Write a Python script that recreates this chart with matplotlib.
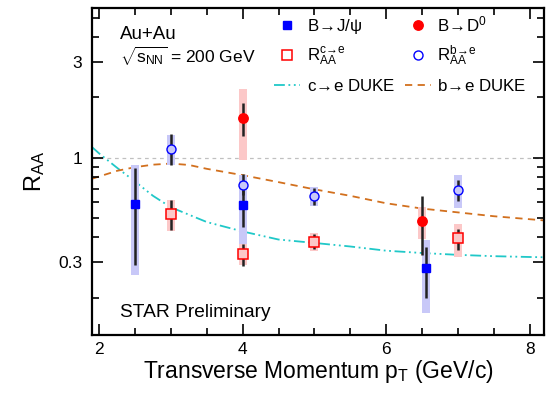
import matplotlib
matplotlib.use('Agg')
import matplotlib.pyplot as plt
from matplotlib.lines import Line2D
from matplotlib.ticker import FixedLocator, NullFormatter, MultipleLocator
import numpy as np

plt.rcParams['font.family'] = ['Liberation Sans', 'DejaVu Sans']
plt.rcParams['mathtext.fontset'] = 'custom'
plt.rcParams['mathtext.rm'] = 'Liberation Sans'
plt.rcParams['mathtext.it'] = 'Liberation Sans:italic'
plt.rcParams['mathtext.bf'] = 'Liberation Sans:bold'

# B -> J/psi
jpsi_pt = [2.5, 4.0, 6.55]
jpsi_raa = [0.59, 0.577, 0.28]
jpsi_stat = [[0.30, 0.127, 0.08], [0.297, 0.109, 0.077]]
jpsi_sys = [[0.332, 0.212, 0.113], [0.325, 0.238, 0.109]]

# B -> D0
d0_pt = [4.0, 6.5]
d0_raa = [1.585, 0.48]
d0_stat = [[0.295, 0.155], [0.29, 0.16]]
d0_sys = [[0.615, 0.086], [0.615, 0.086]]

# c -> e
ce_pt = [3.0, 4.0, 5.0, 7.0]
ce_raa = [0.525, 0.331, 0.381, 0.397]
ce_stat = [[0.092, 0.043, 0.031, 0.05], [0.087, 0.041, 0.033, 0.043]]
ce_sys = [[0.095, 0.041, 0.038, 0.077], [0.09, 0.041, 0.039, 0.071]]

# b -> e
be_pt = [3.0, 4.0, 5.0, 7.0]
be_raa = [1.11, 0.727, 0.64, 0.686]
be_stat = [[0.195, 0.079, 0.062, 0.076], [0.2, 0.103, 0.068, 0.084]]
be_sys = [[0.19, 0.077, 0.065, 0.126], [0.19, 0.093, 0.07, 0.129]]

# DUKE model curves
duke_c_pt = [1.9, 2.0, 2.25, 2.5, 2.75, 3.0, 3.5, 4.0, 4.5, 5.0, 5.5, 6.0, 6.5, 7.0, 7.5, 8.0, 8.2]
duke_c_raa = [1.13, 1.05, 0.89, 0.76, 0.645, 0.565, 0.477, 0.428, 0.39, 0.375, 0.36, 0.343,
              0.334, 0.327, 0.322, 0.319, 0.318]
duke_b_pt = [1.9, 2.25, 2.5, 2.75, 3.0, 3.25, 3.5, 4.0, 4.5, 5.0, 5.5, 6.0, 6.5, 7.0, 7.5, 8.2]
duke_b_raa = [0.785, 0.86, 0.897, 0.923, 0.935, 0.92, 0.88, 0.818, 0.755, 0.695, 0.645, 0.592,
              0.557, 0.533, 0.51, 0.486]

blue = '#0000ff'
red = '#ff0000'
blue_box = '#c8c8f8'
red_box = '#fcc8c8'
statc = '#222222'
box_w = 0.11
cyan = '#20c8c8'
orange = '#d2701e'
dashdot = (0, (6, 2, 1, 2, 1, 2))

fig = plt.figure(figsize=(5.5, 3.93), dpi=100)
ax = fig.add_axes([0.1673, 0.1476, 0.8217, 0.832])
ax.set_yscale('log')


def draw_set(pt, raa, stat, sys, box_color, **mk):
    raa = np.array(raa)
    lo = raa - np.array(sys[0])
    hi = raa + np.array(sys[1])
    ax.bar(pt, hi - lo, bottom=lo, width=box_w, color=box_color, zorder=2)
    ax.errorbar(pt, raa, yerr=stat, fmt='none', ecolor=statc, elinewidth=1.8, capsize=0, zorder=3)
    ax.plot(pt, raa, linestyle='none', zorder=4, **mk)


ax.axhline(1.0, color='#c0c0c0', lw=0.9, ls=(0, (3, 3)), zorder=1)
ax.plot(duke_c_pt, duke_c_raa, color=cyan, lw=1.3, ls=dashdot, zorder=1.5)
ax.plot(duke_b_pt, duke_b_raa, color=orange, lw=1.3, ls=(0, (4, 3)), zorder=1.5)

draw_set(jpsi_pt, jpsi_raa, jpsi_stat, jpsi_sys, blue_box,
         marker='s', ms=6.2, mfc=blue, mec=blue)
draw_set(d0_pt, d0_raa, d0_stat, d0_sys, red_box,
         marker='o', ms=6.8, mfc=red, mec=red)
draw_set(ce_pt, ce_raa, ce_stat, ce_sys, red_box,
         marker='s', ms=6.5, mfc=red_box, mec=red, mew=1.1)
draw_set(be_pt, be_raa, be_stat, be_sys, blue_box,
         marker='o', ms=6.5, mfc=blue_box, mec=blue, mew=1.0)

ax.set_xlim(1.9, 8.2)
ax.set_ylim(0.13, 5.6)

ax.xaxis.set_major_locator(FixedLocator([2, 4, 6, 8]))
ax.xaxis.set_minor_locator(MultipleLocator(0.5))
ax.yaxis.set_major_locator(FixedLocator([0.3, 1, 3]))
ax.set_yticklabels(['0.3', '1', '3'])
minor_y = [0.2, 0.4, 0.5, 0.6, 0.7, 0.8, 0.9, 2, 4, 5]
ax.yaxis.set_minor_locator(FixedLocator(minor_y))
ax.yaxis.set_minor_formatter(NullFormatter())

ax.tick_params(which='both', direction='in', top=True, right=True, width=1.2, labelsize=12.5)
ax.tick_params(which='major', length=8)
ax.tick_params(which='minor', length=5)
ax.tick_params(axis='y', pad=7)
ax.tick_params(axis='x', pad=5)
for s in ax.spines.values():
    s.set_linewidth(1.6)

ax.set_xlabel(r'Transverse Momentum $\mathrm{p}_\mathrm{T}$ (GeV/c)', fontsize=16.5, labelpad=1)
ax.set_ylabel(r'$\mathrm{R}_\mathrm{AA}$', fontsize=17, labelpad=8)

ax.text(0.062, 0.905, 'Au+Au', transform=ax.transAxes, fontsize=13.5)
ax.text(0.062, 0.83, r'$\sqrt{\mathrm{s}_\mathrm{NN}}$ = 200 GeV', transform=ax.transAxes, fontsize=12.5)
ax.text(0.062, 0.055, 'STAR Preliminary', transform=ax.transAxes, fontsize=13.8)

arrow = r'$\!\rightarrow\!$'
handles = [
    Line2D([], [], ls='none', marker='s', ms=6.2, mfc=blue, mec=blue),
    Line2D([], [], ls='none', marker='s', ms=6.5, mfc='white', mec=red, mew=1.1),
    Line2D([], [], color=cyan, lw=1.3, ls=dashdot),
    Line2D([], [], ls='none', marker='o', ms=6.8, mfc=red, mec=red),
    Line2D([], [], ls='none', marker='o', ms=6.5, mfc='white', mec=blue, mew=1.0),
    Line2D([], [], color=orange, lw=1.3, ls=(0, (4, 3))),
]
labels = [
    'B' + arrow + 'J/ψ',
    r'$\mathrm{R}_\mathrm{AA}^{\mathrm{c}\!\rightarrow\!\mathrm{e}}$',
    'c' + arrow + 'e DUKE',
    'B' + arrow + r'D$^0$',
    r'$\mathrm{R}_\mathrm{AA}^{\mathrm{b}\!\rightarrow\!\mathrm{e}}$',
    'b' + arrow + 'e DUKE',
]
ax.legend(handles, labels, ncol=2, loc='upper right', bbox_to_anchor=(0.962, 0.981),
          frameon=False, fontsize=12.2, handlelength=1.5, handletextpad=0.4,
          columnspacing=0.6, labelspacing=0.58, borderpad=0, borderaxespad=0)

fig.savefig('out.png', dpi=100)
